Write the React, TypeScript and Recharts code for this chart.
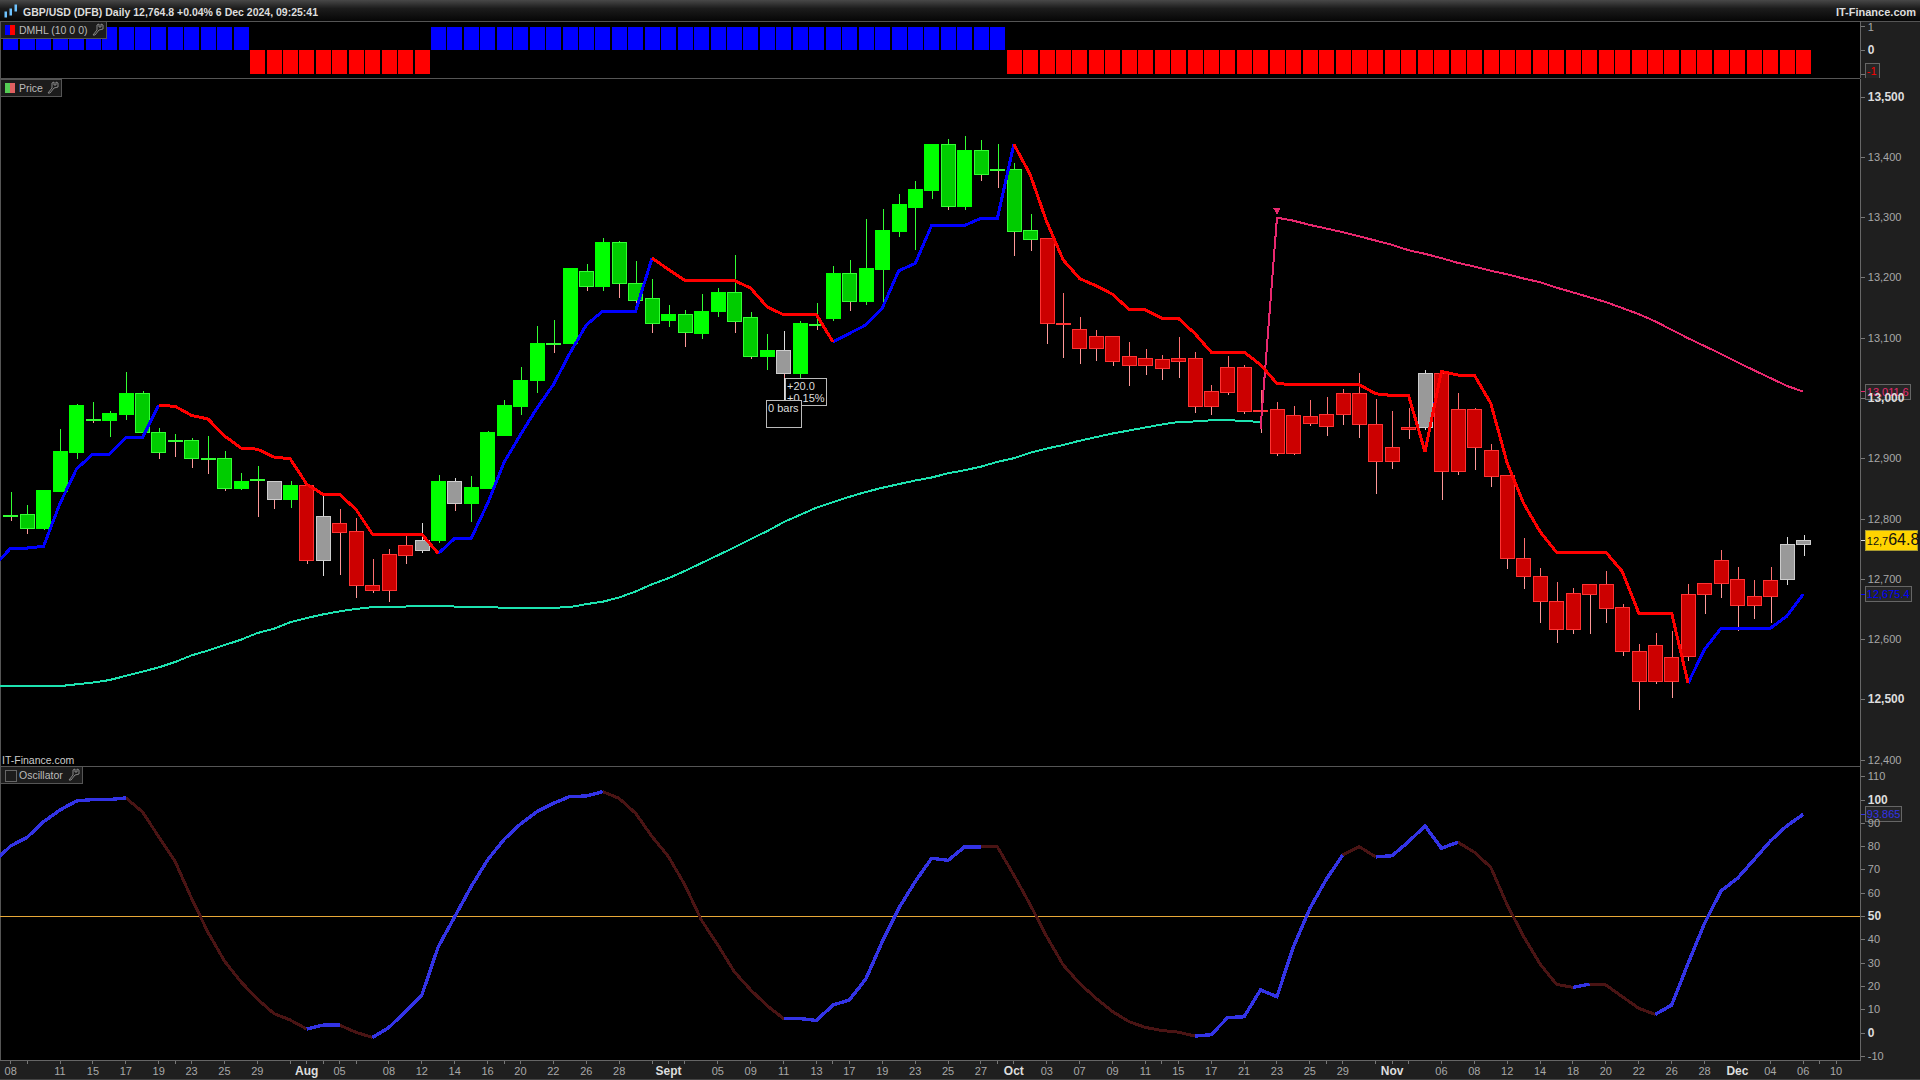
import React from 'react';
import { ComposedChart, Bar, Line, XAxis, YAxis, ReferenceLine } from 'recharts';

const FONT = '"Liberation Sans", Arial, sans-serif';

// one leading session (cut off by the left edge) and three empty sessions on the right
const dates = [
  'Jul 05',
  'Jul 08', 'Jul 09', 'Jul 10', 'Jul 11', 'Jul 12', 'Jul 15', 'Jul 16', 'Jul 17', 'Jul 18', 'Jul 19',
  'Jul 22', 'Jul 23', 'Jul 24', 'Jul 25', 'Jul 26', 'Jul 29', 'Jul 30', 'Jul 31', 'Aug 01', 'Aug 02',
  'Aug 05', 'Aug 06', 'Aug 07', 'Aug 08', 'Aug 09', 'Aug 12', 'Aug 13', 'Aug 14', 'Aug 15', 'Aug 16',
  'Aug 19', 'Aug 20', 'Aug 21', 'Aug 22', 'Aug 23', 'Aug 26', 'Aug 27', 'Aug 28', 'Aug 29', 'Aug 30',
  'Sep 02', 'Sep 03', 'Sep 04', 'Sep 05', 'Sep 06', 'Sep 09', 'Sep 10', 'Sep 11', 'Sep 12', 'Sep 13',
  'Sep 16', 'Sep 17', 'Sep 18', 'Sep 19', 'Sep 20', 'Sep 23', 'Sep 24', 'Sep 25', 'Sep 26', 'Sep 27',
  'Sep 30', 'Oct 01', 'Oct 02', 'Oct 03', 'Oct 04', 'Oct 07', 'Oct 08', 'Oct 09', 'Oct 10', 'Oct 11',
  'Oct 14', 'Oct 15', 'Oct 16', 'Oct 17', 'Oct 18', 'Oct 21', 'Oct 22', 'Oct 23', 'Oct 24', 'Oct 25',
  'Oct 28', 'Oct 29', 'Oct 30', 'Oct 31', 'Nov 01', 'Nov 04', 'Nov 05', 'Nov 06', 'Nov 07', 'Nov 08',
  'Nov 11', 'Nov 12', 'Nov 13', 'Nov 14', 'Nov 15', 'Nov 18', 'Nov 19', 'Nov 20', 'Nov 21', 'Nov 22',
  'Nov 25', 'Nov 26', 'Nov 27', 'Nov 28', 'Nov 29', 'Dec 02', 'Dec 03', 'Dec 04', 'Dec 05', 'Dec 06',
  'Dec 09', 'Dec 10', 'Dec 11',
];

const labelledDates = [
  'Jul 08', 'Jul 11', 'Jul 15', 'Jul 17', 'Jul 19', 'Jul 23', 'Jul 25', 'Jul 29', 'Aug 01', 'Aug 05',
  'Aug 08', 'Aug 12', 'Aug 14', 'Aug 16', 'Aug 20', 'Aug 22', 'Aug 26', 'Aug 28', 'Sep 02', 'Sep 05',
  'Sep 09', 'Sep 11', 'Sep 13', 'Sep 17', 'Sep 19', 'Sep 23', 'Sep 25', 'Sep 27', 'Oct 01', 'Oct 03',
  'Oct 07', 'Oct 09', 'Oct 11', 'Oct 15', 'Oct 17', 'Oct 21', 'Oct 23', 'Oct 25', 'Oct 29', 'Nov 01',
  'Nov 06', 'Nov 08', 'Nov 12', 'Nov 14', 'Nov 18', 'Nov 20', 'Nov 22', 'Nov 26', 'Nov 28', 'Dec 02',
  'Dec 04', 'Dec 06', 'Dec 10',
];
const minorDates = ['Jul 09', 'Jul 22', 'Jul 31', 'Aug 02', 'Aug 06', 'Aug 19', 'Aug 30', 'Sep 03', 'Sep 16', 'Sep 30', 'Oct 14', 'Oct 28', 'Oct 31', 'Nov 04', 'Dec 09'];
const monthNames: Record<string, string> = { 'Aug 01': 'Aug', 'Sep 02': 'Sept', 'Oct 01': 'Oct', 'Nov 01': 'Nov', 'Dec 02': 'Dec' };

// candle values, from Jul 08 to Dec 06
const highs = [
  12845, 12824, 12848, 12949, 12991, 12994, 12979, 13044, 13013, 12951,
  12941, 12935, 12938, 12913, 12876, 12888, 12864, 12863, 12858, 12840,
  12817, 12802, 12734, 12750, 12773, 12793, 12873, 12868, 12872, 12946,
  12997, 13052, 13120, 13130, 13216, 13223, 13266, 13261, 13228, 13199,
  13155, 13147, 13174, 13184, 13238, 13143, 13107, 13112, 13128, 13158,
  13220, 13230, 13298, 13314, 13340, 13361, 13422, 13430, 13435, 13429,
  13423, 13390, 13306, 13267, 13175, 13135, 13114, 13104, 13094, 13082,
  13072, 13102, 13077, 13022, 13071, 13056, 13014, 12995, 12988, 12998,
  13002, 13016, 13042, 12999, 12979, 12985, 13047, 13047, 13009, 12984,
  12925, 12873, 12769, 12719, 12696, 12686, 12692, 12714, 12659, 12593,
  12611, 12615, 12693, 12694, 12749, 12721, 12699, 12721, 12770, 12773,
];
const lows = [
  12797, 12775, 12782, 12847, 12900, 12960, 12937, 12964, 12944, 12900,
  12903, 12885, 12875, 12847, 12848, 12804, 12817, 12819, 12725, 12705,
  12707, 12669, 12678, 12663, 12725, 12744, 12761, 12814, 12796, 12852,
  12938, 12973, 13010, 13076, 13092, 13178, 13178, 13166, 13154, 13109,
  13119, 13086, 13099, 13136, 13109, 13066, 13048, 12999, 13034, 13114,
  13129, 13146, 13155, 13152, 13268, 13246, 13331, 13312, 13312, 13360,
  13350, 13237, 13245, 13091, 13068, 13058, 13062, 13054, 13020, 13039,
  13030, 13034, 12976, 12972, 13006, 12974, 12943, 12905, 12906, 12955,
  12938, 12956, 12935, 12842, 12883, 12933, 12947, 12832, 12873, 12882,
  12853, 12717, 12684, 12628, 12595, 12610, 12610, 12628, 12573, 12484,
  12527, 12504, 12564, 12643, 12669, 12615, 12634, 12627, 12691, 12738,
];
const bodyTops = [
  12807, 12808, 12848, 12913, 12989, 12966, 12976, 13009, 13009, 12944,
  12932, 12932, 12901, 12901, 12864, 12866, 12864, 12856, 12856, 12805,
  12793, 12780, 12690, 12742, 12757, 12765, 12864, 12864, 12853, 12944,
  12989, 13031, 13092, 13092, 13216, 13211, 13259, 13259, 13192, 13166,
  13140, 13140, 13146, 13176, 13176, 13135, 13080, 13080, 13125, 13124,
  13208, 13209, 13216, 13279, 13322, 13347, 13422, 13422, 13413, 13413,
  13380, 13380, 13279, 13266, 13126, 13116, 13103, 13103, 13070, 13067,
  13065, 13068, 13068, 13012, 13052, 13052, 12981, 12982, 12972, 12971,
  12974, 13010, 13010, 12957, 12919, 12952, 13042, 13042, 12982, 12982,
  12915, 12873, 12735, 12705, 12665, 12677, 12692, 12692, 12654, 12582,
  12591, 12571, 12675, 12694, 12733, 12700, 12672, 12699, 12758, 12765,
];
const bodyBottoms = [
  12807, 12786, 12786, 12847, 12912, 12966, 12964, 12975, 12944, 12912,
  12932, 12902, 12901, 12852, 12851, 12866, 12834, 12834, 12733, 12733,
  12779, 12690, 12683, 12683, 12741, 12749, 12765, 12826, 12826, 12852,
  12940, 12988, 13031, 13092, 13092, 13187, 13187, 13192, 13164, 13126,
  13131, 13111, 13109, 13146, 13128, 13071, 13071, 13042, 13043, 13124,
  13133, 13161, 13161, 13215, 13278, 13318, 13346, 13320, 13320, 13373,
  13380, 13278, 13265, 13126, 13126, 13084, 13084, 13063, 13056, 13056,
  13051, 13063, 12987, 12987, 13011, 12980, 12981, 12910, 12910, 12960,
  12955, 12974, 12957, 12896, 12896, 12950, 12952, 12880, 12880, 12919,
  12872, 12735, 12705, 12665, 12618, 12617, 12676, 12653, 12582, 12531,
  12531, 12531, 12573, 12675, 12694, 12657, 12657, 12672, 12700, 12759,
];
// g bright green, d dark green, r red, w grey, p grey with a pink lower wick
const candleKinds = [
  'ddgggdggdd', 'ddddgdpgrw', 'rrrrrwgpgg', 'gggdgdgddd', 'gdggddgpgd', 'gdgggggdgd',
  'dddrrrrrrr', 'rrrrrrrrrr', 'rrrrrrwrrr', 'rrrrrrrrrr', 'rrrrrrrrww',
].join('');

// trailing stop line, first value is the leading session
const trailValues = [
  12722,
  12752, 12752, 12755, 12826, 12883, 12908, 12908, 12935, 12935, 12989,
  12987, 12972, 12966, 12938, 12918, 12916, 12903, 12900, 12858, 12841,
  12841, 12816, 12775, 12775, 12775, 12775, 12743, 12768, 12768, 12826,
  12894, 12940, 12984, 13023, 13075, 13122, 13145, 13145, 13145, 13233,
  13214, 13196, 13196, 13196, 13196, 13183, 13152, 13139, 13139, 13139,
  13094, 13108, 13122, 13150, 13212, 13224, 13287, 13287, 13287, 13299,
  13299, 13422, 13371, 13293, 13230, 13199, 13187, 13173, 13148, 13147,
  13133, 13133, 13108, 13077, 13077, 13077, 13056, 13025, 13023, 13023,
  13023, 13023, 13023, 13008, 13005, 13005, 12912, 13045, 13039, 13039,
  12992, 12893, 12826, 12779, 12745, 12745, 12745, 12745, 12713, 12644,
  12644, 12644, 12528, 12584, 12619, 12619, 12619, 12619, 12639, 12675.4,
];
// sessions (index in dates) where the trailing line is red
const trailRedSpans = [[10, 27], [40, 51], [62, 87], [88, 103]];

const longAverage = [
  12523,
  12523, 12523, 12523, 12523, 12526, 12529, 12533, 12540, 12547, 12554,
  12563, 12574, 12582, 12591, 12600, 12611, 12618, 12629, 12636, 12642,
  12647, 12651, 12654, 12655, 12655, 12656, 12656, 12655, 12654, 12654,
  12653, 12653, 12653, 12653, 12654, 12659, 12663, 12670, 12680, 12692,
  12702, 12714, 12727, 12740, 12753, 12767, 12780, 12795, 12807, 12819,
  12828, 12837, 12845, 12852, 12858, 12864, 12869, 12876, 12881, 12887,
  12895, 12901, 12910, 12917, 12923, 12930, 12936, 12942, 12947, 12952,
  12957, 12961, 12962, 12964, 12964, 12963, 12961,
];

// pink average starts on session 77 of dates and runs to the last candle
const pinkStart = 77;
const pinkAverage = [
  12950, 13300, 13295, 13288, 13282, 13276, 13269, 13262, 13255, 13246,
  13240, 13233, 13225, 13219, 13212, 13206, 13199, 13193, 13184, 13176,
  13168, 13160, 13150, 13140, 13128, 13114, 13100, 13087, 13074, 13060,
  13047, 13034, 13021, 13011.6,
];

const oscillator = [
  73.5,
  80.3, 84, 90.7, 95.7, 99.6, 100.2, 100.2, 100.9, 95, 84.3,
  73.6, 57.8, 43.2, 30.9, 22, 14.6, 8.4, 5.6, 1.7, 3.4,
  3.4, 0.3, -1.9, 2.4, 9.2, 16.3, 37, 49.9, 62.8, 74.3,
  83.1, 89.7, 95, 98.6, 101.5, 101.7, 103.6, 100.7, 94.3, 84.3,
  75.7, 63.5, 48.5, 37.8, 26.3, 18.5, 11.7, 6.2, 6.2, 5.4,
  12, 14.2, 23.2, 39.2, 53.5, 65, 75, 74.1, 79.9, 79.9,
  79.9, 67.8, 55, 41.4, 29.2, 21.3, 14.9, 9.2, 4.9, 2.4,
  1.1, 0.4, -1.3, -0.7, 6.6, 7, 18.5, 15.6, 37, 53.5,
  66, 76.4, 80, 75.6, 76.1, 82.1, 88.9, 79.3, 81.9, 77.6,
  71.1, 55, 41.4, 29.6, 20.9, 19.6, 21, 20.6, 15.6, 10.6,
  8, 12, 29.9, 47.1, 61, 66.4, 74.3, 82.4, 88.9, 93.865,
];
// sessions (index in dates) where the oscillator is blue
const oscBlueSpans = [[0, 6], [7, 8], [19, 21], [23, 37], [48, 49], [50, 57], [58, 60], [73, 77], [78, 82], [84, 87], [88, 89], [96, 97], [101, 110]];

// DMHL state per candle: red on these spans of candle numbers, blue otherwise
const dmhlRedSpans = [[15, 25], [61, 109]];

const priceTicks = [12400, 12500, 12600, 12700, 12800, 12900, 13000, 13100, 13200, 13300, 13400, 13500];
const oscTicks = [-10, 0, 10, 20, 30, 40, 50, 60, 70, 80, 90, 100, 110];
const dmhlTicks = [-1, 0, 1];

const inSpans = (k: number, spans: number[][]) => spans.some(([a, b]) => k >= a && k <= b);

const table = dates.map((date, k) => {
  const i = k - 1;
  const hasCandle = i >= 0 && i < highs.length;
  const dmhlRed = inSpans(i, dmhlRedSpans);
  const trail = trailValues[k];
  const osc = oscillator[k];
  return {
    date,
    range: hasCandle ? [lows[i], highs[i]] : null,
    high: hasCandle ? highs[i] : null,
    low: hasCandle ? lows[i] : null,
    top: hasCandle ? bodyTops[i] : null,
    bottom: hasCandle ? bodyBottoms[i] : null,
    kind: hasCandle ? candleKinds[i] : null,
    trailRed: inSpans(k, trailRedSpans) ? trail : null,
    trailBlue: k < trailValues.length && (!inSpans(k, trailRedSpans) || trailRedSpans.some(([a, b]) => k === a || k === b)) ? trail : null,
    average: longAverage[k] ?? null,
    pink: k >= pinkStart && k < pinkStart + pinkAverage.length ? pinkAverage[k - pinkStart] : null,
    oscBlue: inSpans(k, oscBlueSpans) ? osc : null,
    oscMaroon: k < oscillator.length && (!inSpans(k, oscBlueSpans) || oscBlueSpans.some(([a, b]) => k === a || k === b)) ? osc : null,
    dmhlUp: hasCandle && !dmhlRed ? 1 : null,
    dmhlDown: hasCandle && dmhlRed ? -1 : null,
  };
});

const candleStyles: Record<string, any> = {
  g: { fill: '#00ff00', stroke: '#00ff00', up: '#33ff33', down: '#33ff33' },
  d: { fill: '#00cc00', stroke: '#33ff33', up: '#33ff33', down: '#ff9999' },
  r: { fill: '#cc0000', stroke: '#ff3333', up: '#ff7070', down: '#ff9999' },
  w: { fill: '#999999', stroke: '#cccccc', up: '#dddddd', down: '#dddddd' },
  p: { fill: '#999999', stroke: '#cccccc', up: '#dddddd', down: '#ff9999' },
};

function Candle(props: any) {
  const { x, y, width, height, payload } = props;
  if (!payload || payload.high == null) return null;
  const s = candleStyles[payload.kind];
  const k = height / (payload.high - payload.low);
  const yTop = Math.round(y + (payload.high - payload.top) * k);
  const yBot = Math.round(y + (payload.high - payload.bottom) * k);
  const cx = Math.round(x + width / 2) + 0.5;
  const left = Math.round(x) + 0.5;
  return (
    <g>
      <line x1={cx} x2={cx} y1={y} y2={yTop} stroke={s.up} />
      <line x1={cx} x2={cx} y1={yBot} y2={y + height} stroke={s.down} />
      <rect x={left} y={yTop + 0.5} width={Math.round(width) - 1} height={Math.max(yBot - yTop, 1)} fill={s.fill} stroke={s.stroke} />
    </g>
  );
}

function PinkTriangle(props: any) {
  const { cx, cy, index } = props;
  if (index !== pinkStart + 1) return <g key={index} />;
  return <path key={index} d={`M${cx - 4} ${cy - 10} h8 l-4 7 z`} fill="#e8286e" />;
}

const yTick = (boldValues: number[], fmt: (v: number) => string) => (props: any) => {
  const { x, y, payload } = props;
  const bold = boldValues.includes(payload.value);
  return (
    <text x={x + 1} y={y + 3.5} fill={bold ? '#dddddd' : '#a8a8a8'} fontFamily={FONT} fontSize={bold ? 12 : 11} fontWeight={bold ? 700 : 400}>
      {fmt(payload.value)}
    </text>
  );
};

function DateTick(props: any) {
  const { x, y, payload } = props;
  const month = monthNames[payload.value];
  const labelled = labelledDates.includes(payload.value);
  return (
    <g>
      <line x1={x} x2={x} y1={y - 8} y2={y - 5} stroke="#777" />
      {labelled && (
        <text x={x} y={y + 6} textAnchor="middle" fill={month ? '#dddddd' : '#a8a8a8'} fontFamily={FONT} fontSize={month ? 12 : 11} fontWeight={month ? 700 : 400}>
          {month || payload.value.slice(4)}
        </text>
      )}
    </g>
  );
}

function AxisTag(props: any) {
  const { viewBox, text, color, width, yellow, dy = 0 } = props;
  if (!viewBox) return null;
  const right = viewBox.x + viewBox.width;
  const h = yellow ? 20 : 15;
  const mid = viewBox.y + dy;
  return (
    <g>
      <line x1={right} x2={right + 5} y1={viewBox.y} y2={viewBox.y} stroke={color} />
      <rect x={right + 5} y={mid - h / 2} width={width} height={h} fill={yellow ? '#ffd400' : '#262626'} stroke={yellow ? '#a89a30' : '#666'} />
      {yellow ? (
        <text x={right + 6} y={mid + 5} fontFamily={FONT} fill="#111">
          <tspan fontSize={11}>12,7</tspan>
          <tspan fontSize={16}>64.8</tspan>
        </text>
      ) : (
        <text x={right + 6} y={mid + 4} fontFamily={FONT} fontSize={11} fill={color}>
          {text}
        </text>
      )}
    </g>
  );
}

const chartLeft = -14.2;
const chartWidth = 1934.2;
const axisWidth = 59.4;
const hiddenAxis = { scale: 'band' as const, dataKey: 'date', hide: true, interval: 0 };

function Wrench({ x, y }: { x: number; y: number }) {
  return (
    <svg style={{ position: 'absolute', left: x, top: y }} width={13} height={13} viewBox="0 0 13 13">
      <path d="M1 12 L5 7 L5 2 L7 1 L7 4 L9 4 L9 1 L11 2 L11 6 L7 7 L3 12 Z" fill="none" stroke="#888" />
    </svg>
  );
}

function PaneTag(props: { top: number; width: number; label: string; colors: string[]; wrenchX: number }) {
  const { top, width, label, colors, wrenchX } = props;
  return (
    <div style={{ position: 'absolute', left: 0, top, width, height: 18, background: '#1c1c1c', border: '1px solid #555', boxSizing: 'border-box', color: '#bbb', font: `10.5px ${FONT}` }}>
      <div style={{ position: 'absolute', left: 4, top: 3, width: 10, height: 10, display: 'flex', border: colors.length ? 'none' : '1px solid #666' }}>
        {colors.map((c) => <div key={c} style={{ flex: 1, background: c }} />)}
      </div>
      <span style={{ position: 'absolute', left: 18, top: 2 }}>{label}</span>
      <Wrench x={wrenchX} y={1} />
    </div>
  );
}

const noteBox: React.CSSProperties = { position: 'absolute', border: '1px solid #bbb', background: '#000', color: '#ddd', font: `11px ${FONT}`, boxSizing: 'border-box', lineHeight: '12px', paddingLeft: 1 };

// the platform draws without antialiasing, so the panes use crisp shapes throughout
const paneStyle = (top: number): React.CSSProperties => ({ position: 'absolute', left: chartLeft, top, shapeRendering: 'crispEdges' });

export default function App() {
  return (
    <div style={{ position: 'absolute', left: 0, top: 0, width: 1920, height: 1080, background: '#000', overflow: 'hidden' }}>
      <div style={{ position: 'absolute', left: 0, top: 0, width: 1920, height: 21, background: 'linear-gradient(#484848, #1c1c1c 40%, #060606)' }} />
      <div style={{ position: 'absolute', left: 1860, top: 21, width: 60, height: 1059, background: '#1f1f1f' }} />
      <div style={{ position: 'absolute', left: 0, top: 1061, width: 1920, height: 18, background: '#1f1f1f' }} />
      <div style={{ position: 'absolute', left: 0, top: 1079, width: 1920, height: 1, background: '#444' }} />
      <div style={{ position: 'absolute', left: 0, top: 21, width: 1920, height: 1, background: '#555' }} />
      <div style={{ position: 'absolute', left: 0, top: 78, width: 1860, height: 1, background: '#555' }} />
      <div style={{ position: 'absolute', left: 0, top: 766, width: 1860, height: 1, background: '#555' }} />
      <div style={{ position: 'absolute', left: 0, top: 21, width: 1, height: 1040, background: '#555' }} />

      <div style={paneStyle(21)}>
        <ComposedChart width={chartWidth} height={57} data={table} margin={{ top: 0, right: 0, bottom: 0, left: 0 }} stackOffset="sign">
          <XAxis {...hiddenAxis} />
          <YAxis orientation="right" width={axisWidth} domain={[-1.17, 1.255]} ticks={dmhlTicks} allowDataOverflow interval={0} stroke="#666" tickSize={4} tickLine={{ stroke: '#777' }} tick={yTick([0], (v) => (v === -1 ? '' : String(v)))} />
          <Bar dataKey="dmhlUp" stackId="s" fill="#0000ff" barSize={15} isAnimationActive={false} />
          <Bar dataKey="dmhlDown" stackId="s" fill="#ff0000" barSize={15} isAnimationActive={false} />
          <ReferenceLine y={-1} stroke="none" label={<AxisTag text="-1" color="#ff0000" width={14} dy={-3} />} />
        </ComposedChart>
      </div>

      <div style={paneStyle(79)}>
        <ComposedChart width={chartWidth} height={687} data={table} margin={{ top: 0, right: 0, bottom: 0, left: 0 }}>
          <XAxis {...hiddenAxis} />
          <YAxis
            orientation="right"
            width={axisWidth}
            domain={[12390.5, 13530]}
            allowDataOverflow
            ticks={priceTicks}
            interval={0}
            stroke="#666"
            tickSize={4}
            tickLine={{ stroke: '#777' }}
            tick={yTick([12500, 13000, 13500], (v) => v.toLocaleString('en-US'))}
          />
          <Bar dataKey="range" barSize={15} shape={<Candle />} isAnimationActive={false} />
          <Line dataKey="average" stroke="#1de3b0" strokeWidth={2} dot={false} connectNulls={false} isAnimationActive={false} />
          <Line dataKey="pink" stroke="#e8286e" strokeWidth={2} dot={<PinkTriangle />} connectNulls={false} isAnimationActive={false} />
          <Line dataKey="trailBlue" stroke="#0000ff" strokeWidth={3} dot={false} connectNulls={false} isAnimationActive={false} />
          <Line dataKey="trailRed" stroke="#ff0000" strokeWidth={3} dot={false} connectNulls={false} isAnimationActive={false} />
          <ReferenceLine y={13011.6} stroke="none" label={<AxisTag text="13,011.6" color="#e8286e" width={45} />} />
          <ReferenceLine y={12764.8} stroke="none" label={<AxisTag yellow color="#dddddd" width={52} />} />
          <ReferenceLine y={12675.4} stroke="none" label={<AxisTag text="12,675.4" color="#0000ff" width={46} />} />
        </ComposedChart>
      </div>

      <div style={paneStyle(766)}>
        <ComposedChart width={chartWidth} height={313} data={table} margin={{ top: 0, right: 0, bottom: 0, left: 0 }}>
          <XAxis
            scale="band"
            dataKey="date"
            height={18}
            interval={0}
            ticks={[...labelledDates, ...minorDates]}
            stroke="#666"
            tickLine={false}
            tick={<DateTick />}
          />
          <YAxis
            orientation="right"
            width={axisWidth}
            domain={[-12, 114.6]}
            allowDataOverflow
            ticks={oscTicks}
            interval={0}
            stroke="#666"
            tickSize={4}
            tickLine={{ stroke: '#777' }}
            tick={yTick([0, 50, 100], (v) => String(v))}
          />
          <ReferenceLine y={50} stroke="#e8a838" />
          <Line dataKey="oscMaroon" stroke="#4a1414" strokeWidth={3} dot={false} connectNulls={false} isAnimationActive={false} />
          <Line dataKey="oscBlue" stroke="#3333e6" strokeWidth={3.4} dot={false} connectNulls={false} isAnimationActive={false} />
          <ReferenceLine y={93.865} stroke="none" label={<AxisTag text="93.865" color="#3333e6" width={36} />} />
        </ComposedChart>
      </div>

      <svg style={{ position: 'absolute', left: 4, top: 3 }} width={15} height={18} viewBox="0 0 15 18">
        <g fill="#6fc3ff" stroke="#6fc3ff">
          <rect x={1} y={9} width={1.5} height={5} />
          <rect x={6} y={6} width={1.5} height={6} />
          <rect x={11} y={2} width={1.5} height={6} />
        </g>
      </svg>
      <div style={{ position: 'absolute', left: 23, top: 6, color: '#dddddd', font: `bold 10.5px ${FONT}`, whiteSpace: 'nowrap' }}>
        GBP/USD (DFB) Daily 12,764.8 +0.04% 6 Dec 2024, 09:25:41
      </div>
      <div style={{ position: 'absolute', right: 4, top: 6, color: '#dddddd', font: `bold 11px ${FONT}`, whiteSpace: 'nowrap' }}>IT-Finance.com</div>

      <PaneTag top={21} width={107} label="DMHL (10 0 0)" colors={['#0000ff', '#ff0000']} wrenchX={91} />
      <PaneTag top={79} width={62} label="Price" colors={['#55cc55', '#e06060']} wrenchX={46} />
      <PaneTag top={766} width={83} label="Oscillator" colors={[]} wrenchX={67} />
      <div style={{ position: 'absolute', left: 2, top: 754, color: '#cccccc', font: `10.5px ${FONT}` }}>IT-Finance.com</div>

      <div style={{ position: 'absolute', left: 784, top: 378, width: 1, height: 22, background: '#ddd' }} />
      <div style={{ ...noteBox, left: 785, top: 378, width: 42, height: 28, paddingTop: 1 }}>
        +20.0<br />+0.15%
      </div>
      <div style={{ ...noteBox, left: 766, top: 400, width: 36, height: 28, paddingTop: 1 }}>0 bars</div>
    </div>
  );
}
